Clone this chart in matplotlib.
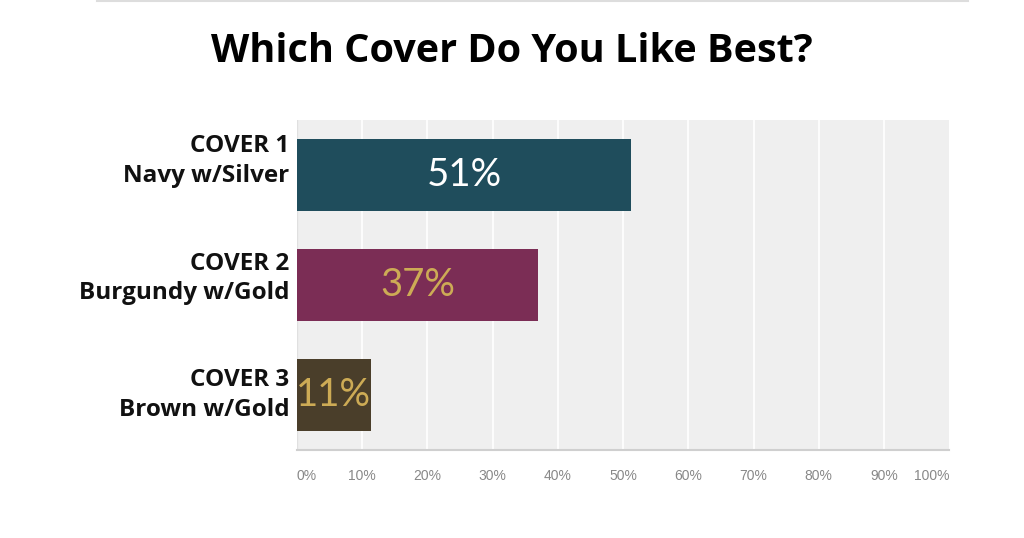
import matplotlib
matplotlib.use("Agg")
import matplotlib.pyplot as plt
from matplotlib.lines import Line2D

categories = ["COVER 1\nNavy w/Silver", "COVER 2\nBurgundy w/Gold", "COVER 3\nBrown w/Gold"]
values = [51.2, 37.0, 11.3]
value_labels = ["51%", "37%", "11%"]
bar_colors = ["#1f4d5c", "#7b2d55", "#4a3e2a"]
label_colors = ["#ffffff", "#cdab55", "#cdab55"]
tick_values = [0, 10, 20, 30, 40, 50, 60, 70, 80, 90, 100]
tick_labels = ["0%", "10%", "20%", "30%", "40%", "50%", "60%", "70%", "80%", "90%", "100%"]
title = "Which Cover Do You Like Best?"

fig = plt.figure(figsize=(10.24, 5.38), dpi=100)
fig.patch.set_facecolor("white")
ax = fig.add_axes([0.290, 0.1636, 0.637, 0.613])
ax.set_facecolor("#efefef")

y = list(range(len(categories)))
bars = ax.barh(y, values, height=0.65, color=bar_colors, zorder=3)
ax.set_xlim(0, 100)
ax.set_ylim(2.5, -0.5)

for v in tick_values[1:-1]:
    ax.axvline(v, color="white", lw=1.2, zorder=1)

for s in ["top", "right", "left"]:
    ax.spines[s].set_visible(False)
ax.spines["bottom"].set_color("#cfcfcf")
ax.spines["bottom"].set_linewidth(1.5)
ax.axvline(0, color="#e0e0e0", lw=1, zorder=2)

ax.set_yticks([])
ax.set_xticks(tick_values)
ax.set_xticklabels(tick_labels, fontsize=10, color="#888888", family="Liberation Sans")
ax.tick_params(axis="x", length=0, pad=14)
tl = ax.get_xticklabels()
tl[0].set_horizontalalignment("left")
tl[-1].set_horizontalalignment("right")

label_offsets = [-0.13, -0.06, 0.0]
for i, (cat, v, lab, lc, off) in enumerate(zip(categories, values, value_labels, label_colors, label_offsets)):
    ax.text(-0.012, i + off, cat, transform=ax.get_yaxis_transform(), ha="right", va="center",
            fontsize=17.5, fontweight="bold", family="Open Sans", linespacing=1.33, color="#111111")
    ax.text(v / 2, i, lab, ha="center", va="center", fontsize=27.5, color=lc,
            family="Lato", fontweight="normal", zorder=4)

fig.text(0.5, 0.905, title, ha="center", va="center", fontsize=28.5, fontweight="bold",
         family="Open Sans", color="black")
fig.add_artist(Line2D([0.095, 0.945], [0.998, 0.998], color="#dddddd", lw=1.5, transform=fig.transFigure))

fig.savefig("out.png", dpi=100)
